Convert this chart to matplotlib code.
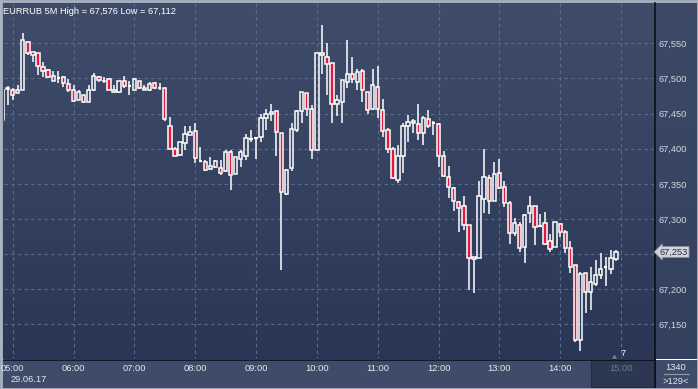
import numpy as np
import pandas as pd
import matplotlib
matplotlib.use("Agg")
import matplotlib.pyplot as plt
from matplotlib.patches import Rectangle

# EURRUB 5M candles, 29.06.17, prices in 1/1000 rub (67441 -> 67,441)
opens = [67441, 67485, 67483, 67479, 67484, 67552, 67533, 67536, 67517, 67512,
         67503, 67500, 67502, 67492, 67483, 67470, 67476, 67467, 67483, 67502,
         67496, 67499, 67481, 67480, 67496, 67489, 67484, 67496, 67486, 67483,
         67494, 67487, 67486, 67433, 67399, 67391, 67408, 67419, 67425, 67383,
         67381, 67371, 67374, 67373, 67368, 67395, 67364, 67385, 67389, 67414,
         67415, 67416, 67443, 67449, 67453, 67423, 67335, 67372, 67427, 67453,
         67479, 67457, 67398, 67536, 67530, 67522, 67463, 67466, 67495, 67506,
         67495, 67510, 67480, 67456, 67488, 67455, 67426, 67399, 67355, 67390,
         67433, 67439, 67435, 67422, 67442, 67436, 67435, 67390, 67359, 67344,
         67324, 67318, 67291, 67243, 67244, 67329, 67358, 67325, 67365, 67345,
         67322, 67280, 67291, 67260, 67308, 67319, 67290, 67294, 67269, 67260,
         67293, 67281, 67258, 67234, 67127, 67223, 67196, 67207, 67220, 67231,
         67229, 67243]
highs = [67485, 67489, 67486, 67491, 67565, 67553, 67537, 67536, 67524, 67514,
         67511, 67511, 67503, 67499, 67491, 67483, 67477, 67491, 67508, 67503,
         67502, 67500, 67491, 67497, 67503, 67496, 67500, 67497, 67491, 67495,
         67495, 67493, 67487, 67445, 67402, 67410, 67433, 67433, 67437, 67402,
         67384, 67388, 67384, 67384, 67398, 67398, 67388, 67398, 67421, 67427,
         67416, 67450, 67456, 67464, 67453, 67423, 67371, 67437, 67455, 67480,
         67479, 67462, 67536, 67576, 67551, 67522, 67476, 67498, 67555, 67530,
         67513, 67513, 67480, 67513, 67518, 67471, 67429, 67402, 67405, 67437,
         67448, 67442, 67464, 67446, 67455, 67440, 67436, 67397, 67375, 67346,
         67326, 67333, 67291, 67246, 67354, 67399, 67363, 67381, 67386, 67354,
         67325, 67301, 67295, 67307, 67333, 67319, 67307, 67310, 67279, 67295,
         67294, 67284, 67269, 67234, 67225, 67223, 67232, 67241, 67251, 67246,
         67256, 67256]
lows = [67440, 67462, 67469, 67479, 67484, 67534, 67524, 67505, 67502, 67500,
        67496, 67494, 67488, 67480, 67467, 67469, 67465, 67466, 67482, 67495,
        67493, 67483, 67479, 67479, 67487, 67476, 67483, 67485, 67483, 67482,
        67485, 67484, 67440, 67399, 67389, 67389, 67398, 67419, 67380, 67381,
        67368, 67370, 67372, 67362, 67367, 67341, 67364, 67374, 67384, 67410,
        67385, 67410, 67426, 67440, 67389, 67227, 67334, 67368, 67424, 67436,
        67446, 67386, 67398, 67507, 67476, 67436, 67446, 67437, 67486, 67493,
        67483, 67467, 67449, 67455, 67443, 67417, 67394, 67357, 67351, 67365,
        67410, 67423, 67412, 67405, 67429, 67420, 67374, 67359, 67330, 67312,
        67282, 67284, 67199, 67194, 67244, 67308, 67307, 67325, 67342, 67317,
        67264, 67275, 67253, 67237, 67294, 67263, 67288, 67263, 67253, 67260,
        67274, 67251, 67223, 67125, 67112, 67166, 67170, 67204, 67215, 67205,
        67222, 67240]
closes = [67484, 67487, 67477, 67483, 67555, 67536, 67537, 67518, 67510, 67502,
          67497, 67500, 67494, 67483, 67468, 67480, 67466, 67483, 67503, 67498,
          67497, 67484, 67484, 67496, 67489, 67489, 67499, 67486, 67483, 67492,
          67486, 67487, 67442, 67399, 67390, 67410, 67421, 67424, 67387, 67383,
          67369, 67375, 67382, 67365, 67396, 67362, 67388, 67396, 67415, 67414,
          67415, 67443, 67450, 67452, 67424, 67338, 67370, 67428, 67453, 67480,
          67456, 67398, 67536, 67533, 67520, 67463, 67469, 67498, 67507, 67499,
          67509, 67484, 67455, 67490, 67456, 67425, 67399, 67358, 67390, 67432,
          67438, 67436, 67423, 67443, 67433, 67436, 67390, 67361, 67345, 67325,
          67315, 67291, 67244, 67246, 67333, 67359, 67325, 67364, 67344, 67322,
          67280, 67294, 67258, 67306, 67318, 67289, 67290, 67264, 67257, 67295,
          67281, 67258, 67232, 67128, 67222, 67196, 67210, 67220, 67229, 67231,
          67245, 67253]

hour_labels = ["05:00", "06:00", "07:00", "08:00", "09:00", "10:00",
               "11:00", "12:00", "13:00", "14:00", "15:00"]
price_ticks = [67150, 67200, 67250, 67300, 67350, 67400, 67450, 67500, 67550]
date_label = "29.06.17"
symbol = "EURRUB 5M"

times = pd.date_range("2017-06-29 04:50", periods=len(opens), freq="5min")


def fmt(p):
    return f"{p // 1000},{p % 1000:03d}"


W, H = 698, 389
fig = plt.figure(figsize=(W / 100, H / 100), dpi=100)
plt.rcParams["font.family"] = ["Liberation Sans", "DejaVu Sans"]
FS = 6.7


def fx(px):
    return px / W


def fy(py):
    return 1 - py / H


# background, drawn in pixel coords
bg = fig.add_axes([0, 0, 1, 1])
bg.axis("off")


def vgrad(x0, x1, y0, y1, c_top, c_bot):
    a = np.array(matplotlib.colors.to_rgb(c_top))
    b = np.array(matplotlib.colors.to_rgb(c_bot))
    t = np.linspace(0, 1, 64)[:, None]
    img = (a * (1 - t) + b * t)[:, None, :]
    bg.imshow(img, extent=[x0, x1, y1, y0], aspect="auto", zorder=0)


left_px, right_px, top_px, bot_px = 3.5, 655, 3, 359.5

vgrad(0, right_px, 0, bot_px, "#3f4d6a", "#2a3656")
vgrad(right_px, W, 0, bot_px, "#3c4a67", "#33405e")
bg.add_patch(Rectangle((0, bot_px), W, H - bot_px, fc="#3e4c6a", ec="none", zorder=1))
bg.add_patch(Rectangle((590.5, bot_px + 0.5), 64, 27, fc="#2c3753", ec="#222b40", lw=0.8, zorder=2))
bg.plot([right_px, right_px], [bot_px, H], color="#0c0f18", lw=1.2, zorder=3)
bg.set_xlim(0, W)
bg.set_ylim(H, 0)

# main price axes (same scale as the reference: 50 pts per ~35 px)
ax = fig.add_axes([fx(left_px), fy(bot_px), fx(right_px - left_px), (bot_px - top_px) / H])
ax.patch.set_alpha(0)
ax.set_xlim(0.19, 128.7)
ax.set_ylim(67099.9, 67607.4)

hour_idx = [i for i, t in enumerate(times) if t.minute == 0]
hour_idx.append(len(times))  # 15:00, right after the last candle
for h in hour_idx:
    ax.axvline(h, color="#5b6b8a", lw=0.8, ls=(0, (3, 3)), zorder=1)
for p in price_ticks:
    ax.axhline(p, color="#5b6b8a", lw=0.8, ls=(0, (3, 3)), zorder=1)

o = np.array(opens)
c = np.array(closes)
hi = np.array(highs)
lo = np.array(lows)
idx = np.arange(len(o))
top = np.maximum(o, c)
bot = np.minimum(o, c)
ax.vlines(idx, top, hi, color="white", lw=1.1, zorder=3)
ax.vlines(idx, lo, bot, color="white", lw=1.1, zorder=3)
bw = 0.66
up = c > o
down = c < o
flat = c == o
ax.bar(idx[up], (c - o)[up], bottom=o[up], width=bw, color="none",
       edgecolor="white", lw=1.1, zorder=4)
ax.bar(idx[down], (o - c)[down], bottom=c[down], width=bw, color="#e2183e",
       edgecolor="white", lw=1.1, zorder=4)
ax.hlines(o[flat], idx[flat] - bw / 2, idx[flat] + bw / 2, color="white", lw=1.6, zorder=4)

for s in ["left", "top"]:
    ax.spines[s].set_visible(False)
for s in ["right", "bottom"]:
    ax.spines[s].set_color("#0c0f18")
    ax.spines[s].set_linewidth(1.2)

last = closes[-1]
ax.yaxis.tick_right()
ax.set_yticks(price_ticks)
# the label nearest the last price sits under the price marker
ax.set_yticklabels(["" if abs(p - last) < 25 else fmt(p) for p in price_ticks])
ax.tick_params(axis="y", length=0, pad=2.5, labelsize=FS, labelcolor="#d2d8e2")
ax.set_xticks(hour_idx)
ax.set_xticklabels(hour_labels)
ax.tick_params(axis="x", length=0, pad=3, labelsize=FS, labelcolor="#e4e8ee")
ax.get_xticklabels()[-1].set_color("#6d7a92")

# title
fig.text(fx(3), fy(12), f"{symbol} High = {fmt(max(highs))} Low = {fmt(min(lows))}",
         color="white", fontsize=FS, va="center", ha="left")

# last price marker
ax.annotate(fmt(last), xy=(1.0, last), xycoords=("axes fraction", "data"),
            xytext=(3.5, 0), textcoords="offset points", va="center", ha="left",
            fontsize=FS, color="#2a2f3a", annotation_clip=False,
            bbox=dict(boxstyle="larrow,pad=0.1", fc="#d0d3d9", ec="#8a909c", lw=0.6))

fig.text(fx(29), fy(380), date_label, color="#e4e8ee", fontsize=FS, ha="center", va="center")
fig.text(fx(623), fy(354), "7", color="white", fontsize=FS, ha="center", va="center")
bg.plot([614], [357], marker="^", ms=3, color="#6d7a92", zorder=5)
fig.text(fx(676), fy(367), "1340", color="#e4e8ee", fontsize=FS, ha="center", va="center")
fig.text(fx(676), fy(381), ">129<", color="#e4e8ee", fontsize=FS, ha="center", va="center")
bg.plot([664, 689], [374, 374], color="#8e98ab", lw=0.8, zorder=5)

# outer border
bg.add_patch(Rectangle((0.5, 0.5), W - 1, H - 1, fc="none", ec="#aab3c1", lw=2, zorder=10))
bg.add_patch(Rectangle((0, 0), 2, bot_px, fc="#aab3c1", ec="none", zorder=10))

fig.savefig("out.png", dpi=100)
